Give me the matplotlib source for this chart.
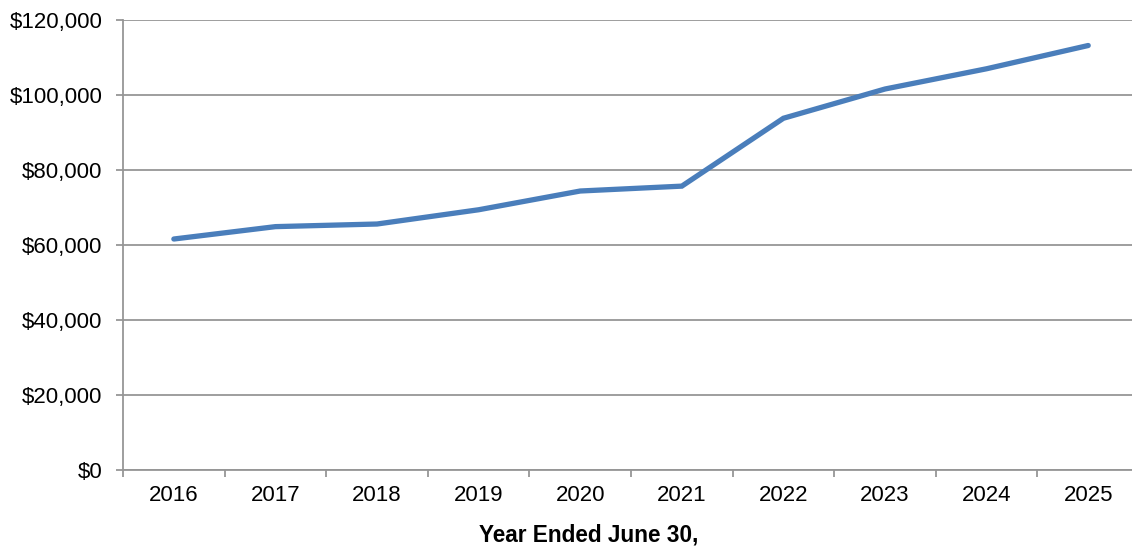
import matplotlib
matplotlib.use("Agg")
import matplotlib.pyplot as plt
from matplotlib.ticker import FuncFormatter, FixedLocator

# Annual totals, fiscal year ended June 30
years = ["2016", "2017", "2018", "2019", "2020",
         "2021", "2022", "2023", "2024", "2025"]
amounts = [61600, 64900, 65600, 69400, 74400,
           75700, 93800, 101600, 107000, 113200]

LINE_BLUE = "#4A7EBB"
GRID_GREY = "#969696"

plt.rcParams["font.family"] = ["Liberation Sans", "DejaVu Sans"]

fig = plt.figure(figsize=(11.32, 5.48), dpi=100)
ax = fig.add_axes([0.1087, 0.1423, 0.8975, 0.8212])

x = list(range(len(years)))
ax.plot(x, amounts, color=LINE_BLUE, lw=3.8, solid_capstyle="round",
        solid_joinstyle="miter", zorder=3)

ax.set_ylim(0, 120000)
ax.set_xlim(-0.5, len(years) - 0.5)
ax.set_yticks(range(0, 120001, 20000))
ax.yaxis.set_major_formatter(FuncFormatter(lambda v, _: f"${v:,.0f}"))
ax.yaxis.grid(True, color=GRID_GREY, lw=1.3)
ax.set_axisbelow(True)

# category boundaries carry the tick marks, centres carry the labels
ax.xaxis.set_major_locator(FixedLocator([i - 0.5 for i in range(len(years) + 1)]))
ax.xaxis.set_major_formatter(FuncFormatter(lambda v, _: ""))
ax.xaxis.set_minor_locator(FixedLocator(x))
ax.set_xticklabels(years, minor=True)

ax.tick_params(axis="x", which="major", length=5, width=1.3, color=GRID_GREY)
ax.tick_params(axis="x", which="minor", length=0, pad=11, labelsize=16)
ax.tick_params(axis="y", length=5, width=1.3, color=GRID_GREY, pad=10,
               labelsize=16)

for side in ("top", "right"):
    ax.spines[side].set_visible(False)
for side in ("left", "bottom"):
    ax.spines[side].set_color(GRID_GREY)
    ax.spines[side].set_linewidth(1.3)

fig.text(0.52, 0.024, "Year Ended June 30,", fontsize=16.3,
         fontweight="bold", ha="center", va="center")

fig.savefig("out.png", dpi=100)
